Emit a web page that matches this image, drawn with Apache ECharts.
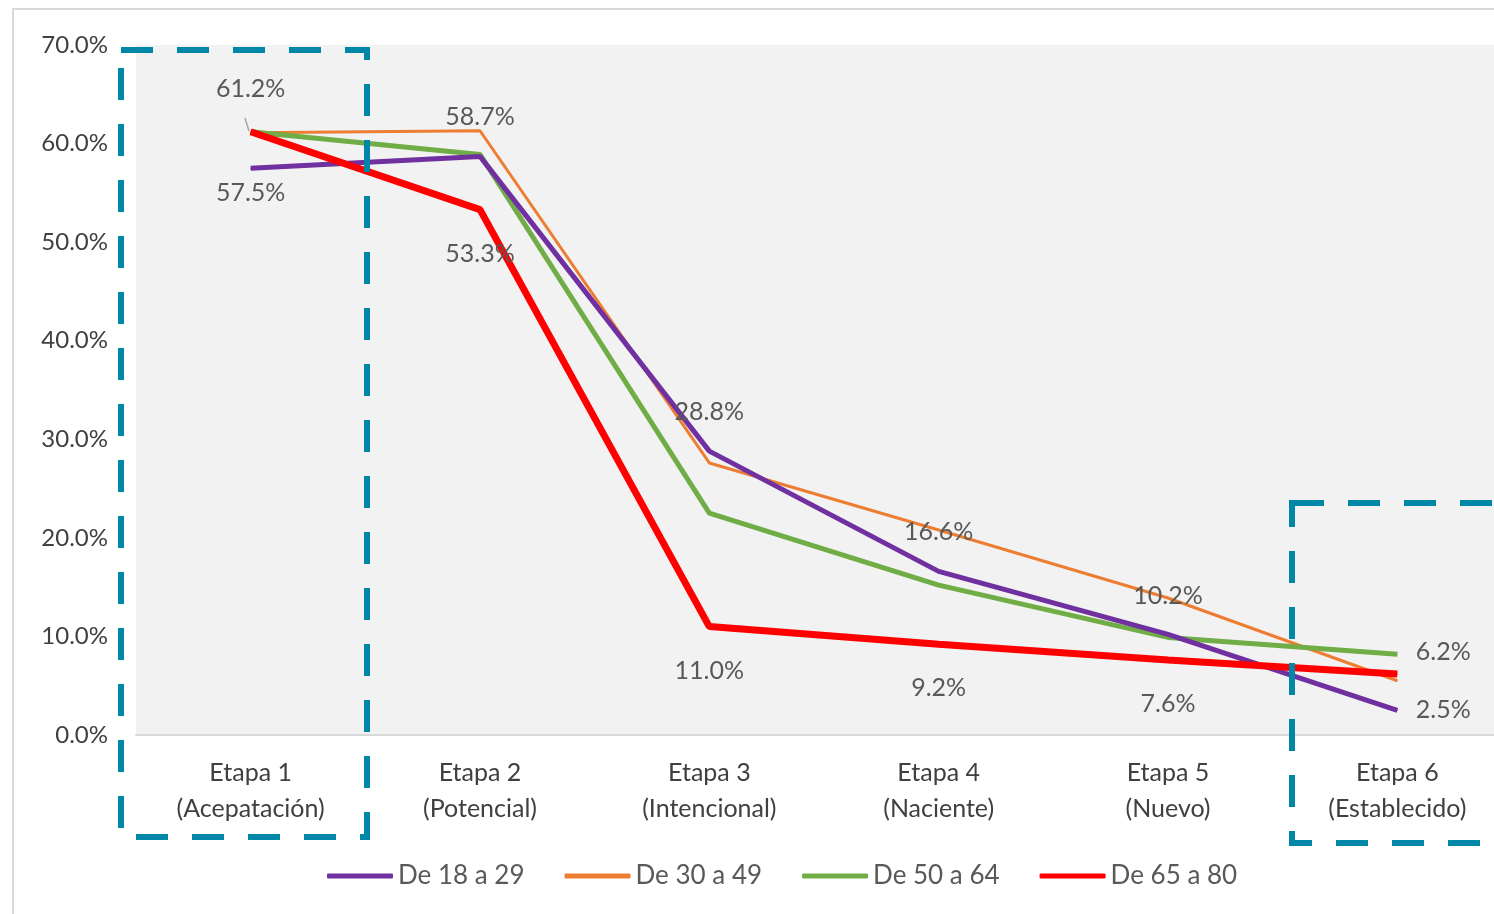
<!DOCTYPE html>
<html>
<head>
<meta charset="utf-8">
<script src="https://cdn.jsdelivr.net/npm/echarts@6/dist/echarts.min.js"></script>
<style>html,body{margin:0;padding:0;background:#fff}#c{width:1494px;height:914px}</style>
</head>
<body>
<div id="c"></div>
<script>
const categories = ['Etapa 1\n(Acepatación)', 'Etapa 2\n(Potencial)', 'Etapa 3\n(Intencional)', 'Etapa 4\n(Naciente)', 'Etapa 5\n(Nuevo)', 'Etapa 6\n(Establecido)'];
const seriesNames = ['De 18 a 29', 'De 30 a 49', 'De 50 a 64', 'De 65 a 80'];
const s18 = [57.5, 58.7, 28.8, 16.6, 10.2, 2.5];
const s30 = [61.1, 61.3, 27.6, 20.8, 13.9, 5.5];
const s50 = [61.2, 58.9, 22.5, 15.2, 9.9, 8.2];
const s65 = [61.2, 53.3, 11.0, 9.2, 7.6, 6.2];
const yTicks = [0, 10, 20, 30, 40, 50, 60, 70];

const FONT = 'Lato';
const labelColor = '#595959';

function labeled(values, positions, distances, offsets) {
  return values.map((v, i) => ({
    value: v,
    label: {
      show: true,
      position: positions[i],
      distance: distances[i],
      offset: offsets[i] || [0, 0],
      formatter: (p) => p.value.toFixed(1) + '%',
      color: labelColor, fontSize: 25, fontFamily: FONT
    }
  }));
}

const chart = echarts.init(document.getElementById('c'), null, {renderer: 'canvas'});
chart.setOption({
  backgroundColor: '#ffffff',
  animation: false,
  grid: {left: 136, top: 45, width: 1376, height: 690, show: true, backgroundColor: '#f2f2f2', borderWidth: 0, outerBoundsMode: 'none', containLabel: false},
  xAxis: {
    type: 'category', data: categories, boundaryGap: true,
    axisLine: {show: true, lineStyle: {color: '#d9d9d9', width: 2}},
    axisTick: {show: false},
    axisLabel: {color: '#404040', fontSize: 25, fontFamily: FONT, lineHeight: 36, margin: 20}
  },
  yAxis: {
    type: 'value', min: 0, max: 70, interval: 10,
    splitLine: {show: false},
    axisLine: {show: false}, axisTick: {show: false},
    axisLabel: {color: '#404040', fontSize: 24, fontFamily: FONT, margin: 28,
      formatter: (v) => yTicks.includes(v) ? v.toFixed(1) + '%' : ''}
  },
  legend: {
    bottom: 20, left: 322, itemWidth: 66, itemHeight: 5, itemGap: 40, icon: 'roundRect',
    textStyle: {color: labelColor, fontSize: 26, fontFamily: FONT, padding: [0, 0, 0, 0]},
    data: seriesNames
  },
  series: [
    {name: seriesNames[0], type: 'line', symbol: 'circle', symbolSize: 1, color: '#7030a0', z: 3,
      lineStyle: {width: 5, color: '#7030a0'},
      data: labeled(s18, ['bottom', 'top', 'top', 'top', 'top', 'right'], [12, 26, 26, 26, 26, 18], [])},
    {name: seriesNames[1], type: 'line', symbol: 'circle', symbolSize: 1, color: '#ed7d31', z: 2,
      lineStyle: {width: 3, color: '#ed7d31'}, data: s30},
    {name: seriesNames[2], type: 'line', symbol: 'circle', symbolSize: 1, color: '#70ad47', z: 2,
      lineStyle: {width: 5, color: '#70ad47'}, data: s50},
    {name: seriesNames[3], type: 'line', symbol: 'circle', symbolSize: 1, color: '#ff0000', z: 4,
      lineStyle: {width: 7, color: '#ff0000'},
      data: labeled(s65, ['top', 'bottom', 'bottom', 'bottom', 'bottom', 'right'], [30, 31, 31, 31, 31, 18], [null, null, null, null, null, [0, -22]])}
  ],
  graphic: [
    {type: 'rect', z: 0, shape: {x: 13, y: 9, width: 1500, height: 920}, style: {fill: 'none', stroke: '#d9d9d9', lineWidth: 2}},
    {type: 'line', z: 5, shape: {x1: 245, y1: 118, x2: 249, y2: 131}, style: {stroke: '#a6a6a6', lineWidth: 1.5}},
    {type: 'rect', z: 100, shape: {x: 121, y: 50, width: 246, height: 787}, style: {fill: 'none', stroke: '#0087a8', lineWidth: 6, lineDash: [32, 24]}},
    {type: 'rect', z: 100, shape: {x: 1292, y: 503, width: 260, height: 340}, style: {fill: 'none', stroke: '#0087a8', lineWidth: 6, lineDash: [32, 24]}}
  ]
});
</script>
</body>
</html>
